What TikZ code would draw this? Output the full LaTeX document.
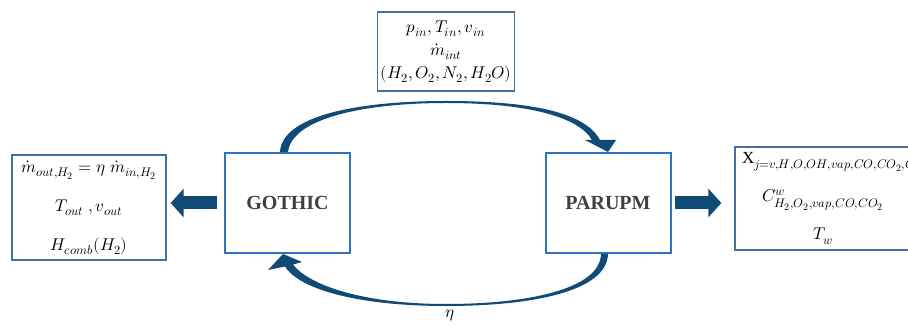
\documentclass[tikz,border=0pt]{standalone}
\usepackage{fontspec}
\usepackage{unicode-math}
\setmainfont{Liberation Serif}
\setmathfont{Latin Modern Math}
\DeclareMathSizes{17}{17}{12.5}{10}
\usetikzlibrary{arrows.meta,calc}
\definecolor{boxblue}{RGB}{46,117,190}
\definecolor{infoblue}{RGB}{65,113,156}
\definecolor{arrowblue}{RGB}{16,75,120}
\definecolor{textgray}{RGB}{64,64,64}
\begin{document}
\begin{tikzpicture}[x=1pt, y=-1pt,
    codebox/.style={draw=boxblue, line width=2pt, minimum width=125pt, minimum height=100pt, text=textgray, font=\fontsize{20}{24}\selectfont\bfseries},
    infobox/.style={draw=infoblue, line width=1.3pt, align=center, inner sep=2pt},
    blockarrow/.style={draw=arrowblue, line width=13pt, -{Triangle[length=13pt, width=28pt]}},
    loopfill/.style={fill=arrowblue}]
    \useasboundingbox (0,0) rectangle (908,328);
    \clip (0,0) rectangle (908,328);
    \node[codebox] (gothic) at (287.5,203) {GOTHIC};
    \node[codebox] (parupm) at (608,203) {PARUPM};
    \node[infobox, minimum width=137pt, minimum height=79pt, font=\fontsize{17}{23}\selectfont] (inputs) at (446,51.5)
        {$p_{in}, T_{in}, v_{in}$\\ $\dot{m}_{int}$\\ $(H_2, O_2, N_2, H_2O)$};
    \node[infobox, minimum width=154pt, minimum height=105pt, font=\fontsize{17}{39}\selectfont] (outputs) at (89,207.5)
        {$\dot{m}_{out,H_2} = \eta\;\dot{m}_{in,H_2}$\\ $T_{out}\;, v_{out}$\\ $H_{comb}(H_2)$};
    \node[infobox, minimum width=176pt, minimum height=103pt, font=\fontsize{17}{38}\selectfont] (results) at (823,198.5)
        {\makebox[162pt][l]{$\mathrm{X}_{j=v,H,O,OH,vap,CO,CO_2,C}$}\\ $C^{w}_{H_2,O_2,vap,CO,CO_2}$\\ $T_w$};
    \draw[blockarrow, shorten <=7pt, shorten >=4pt] (gothic.west) -- (gothic.west -| outputs.east);
    \draw[blockarrow, shorten <=3pt, shorten >=13pt] (parupm.east) -- (parupm.east -| results.west);
    \fill[loopfill] ($(gothic.north)+(-7.5,0)$) .. controls (282,115) and (360,101) .. (446,101)
        .. controls (530,101) and (585,112) .. (600,140) -- (616,140) -- (parupm.north) -- (585,140) -- (592,140)
        .. controls (578,116) and (525,103) .. (446,103) .. controls (365,103) and (292,118) .. ($(gothic.north)+(0.5,0)$) -- cycle;
    \fill[loopfill] ($(parupm.south)+(0,0)$) .. controls (607,292) and (530,306) .. (446,306)
        .. controls (360,306) and (300,290) .. (285,266.5) -- (268,270) -- ($(gothic.south)+(-4.5,0)$) -- (302,262) -- (293,264.6)
        .. controls (310,286) and (365,304) .. (446,304) .. controls (525,304) and (600,290) .. ($(parupm.south)+(-7,0)$) -- cycle;
    \node[font=\fontsize{17}{20}\selectfont] (eta) at (450,316) {$\eta$};
\end{tikzpicture}
\end{document}
